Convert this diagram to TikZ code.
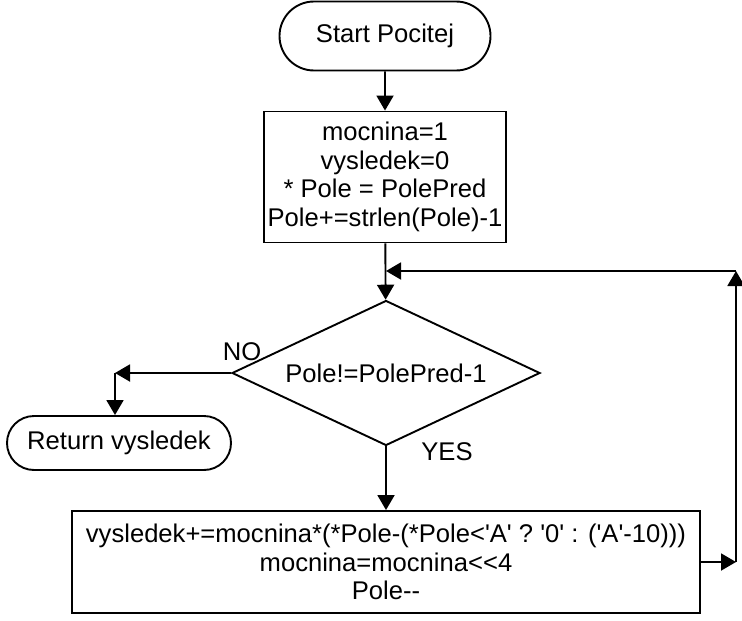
\documentclass[tikz,border=0pt]{standalone}
\usepackage{fontspec}
\setmainfont{Liberation Sans}[Ligatures=TeXOff]
\usetikzlibrary{shapes.misc, shapes.geometric, arrows.meta}

\tikzset{
	term/.style={draw, rounded rectangle, inner sep=0pt},
	procbox/.style={draw, rectangle, align=center, inner sep=0pt},
	decide/.style={draw, diamond, aspect=2.12, inner sep=0pt},
	flow/.style={-{Triangle[length=15pt,width=17pt]}},
}

\begin{document}
\begin{tikzpicture}[x=1pt, y=-1pt, line width=1.9pt, font=\fontsize{25.6}{28.5}\selectfont]

	\useasboundingbox (0,0) rectangle (742,621);

%main column
	\node [term, minimum width=211pt, minimum height=69pt] (start) at (385,36){Start Pocitej};
	\node [procbox, minimum width=242pt, minimum height=131pt] (init) at (385,177){mocnina=1\\vysledek=0\\* Pole = PolePred\\Pole+=strlen(Pole)-1};
	\node [decide, minimum width=308pt, minimum height=145pt] (test) at (386,373){Pole!=PolePred-1};
	\node [procbox, minimum width=628pt, minimum height=102pt] (work) at (386,562){vysledek+=mocnina*(*Pole-(*Pole<'A' ? '0' : ('A'-10)))\\mocnina=mocnina<<4\\Pole--};

%exit
	\node [term, minimum width=224pt, minimum height=54pt] (ret) at (119,443){Return vysledek};

	\node [] (no) at (242,352){NO};
	\node [] (yes) at (447,452){YES};

	\draw [flow] (start) -- (init);
	\draw [flow] (init) -- (test);
	\draw [flow] (test) -- (work);

%aux points
	\coordinate [] (nocorner) at (115,373);
	\coordinate [] (loopa) at (736,562);
	\coordinate [] (loopb) at (736,271);
	\coordinate [] (loopc) at (386,271);

	\draw [flow] (test.west) -- (nocorner);
	\draw [flow] (nocorner) -- (nocorner |- ret.north);
	%loop back
	\draw [flow] (work.east) -- (loopa);
	\draw [flow] (loopa) -- (loopb);
	\draw [flow] (loopb) -- (loopc);

\end{tikzpicture}
\end{document}
